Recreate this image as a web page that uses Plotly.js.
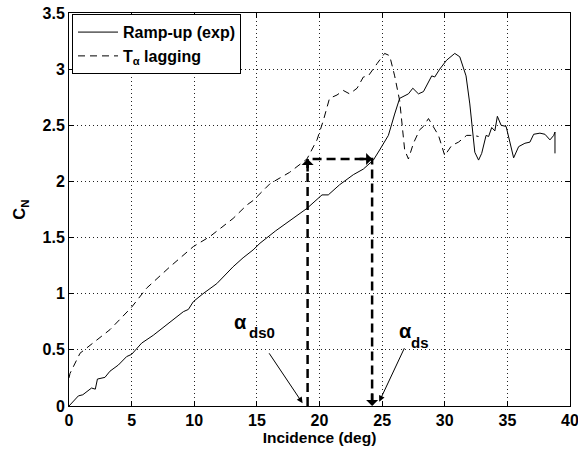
<!DOCTYPE html>
<html>
<head>
<meta charset="utf-8">
<script src="https://cdn.plot.ly/plotly-3.0.1.min.js"></script>
<style>html,body{margin:0;padding:0;background:#fff;}#chart{width:578px;height:450px;}</style>
</head>
<body>
<div id="chart"></div>
<script>
// Ramp-up (exp) measured curve
const rampX = [0,0.35,0.75,1.1,1.5,1.8,2.1,2.27,2.87,3.27,3.94,4.6,5.0,5.8,6.73,7.8,9.13,9.53,9.93,10.7,11.8,13.1,13.9,14.7,15.25,16.5,17.6,19.0,20.2,20.7,21.6,22.7,23.5,24.3,24.8,25.5,26.0,26.4,27.1,27.45,27.9,28.3,28.96,29.2,29.6,30.15,30.8,31.2,31.7,32.0,32.4,32.7,32.95,33.3,33.5,33.75,34.0,34.2,34.5,34.9,35.5,35.9,36.4,36.8,37.1,37.6,38.0,38.4,38.7,38.8,38.8];
const rampY = [0,0.04,0.09,0.10,0.13,0.16,0.15,0.24,0.255,0.31,0.365,0.44,0.46,0.56,0.63,0.72,0.84,0.86,0.93,1.00,1.09,1.24,1.32,1.39,1.45,1.56,1.65,1.76,1.88,1.88,1.97,2.06,2.11,2.19,2.28,2.41,2.60,2.74,2.78,2.83,2.78,2.80,2.94,2.93,3.00,3.08,3.14,3.11,2.94,2.69,2.26,2.19,2.25,2.41,2.40,2.48,2.45,2.58,2.50,2.49,2.21,2.31,2.34,2.35,2.42,2.43,2.42,2.37,2.41,2.44,2.25];
// T_alpha lagging model curve
const lagX = [0,0.08,0.88,1.94,3.27,5.0,6.2,8.06,9.93,11.26,13.1,14.2,14.7,16.05,17.6,19.0,19.8,20.3,20.8,21.4,21.9,22.4,23.0,23.5,23.9,24.6,25.2,25.6,26.0,26.4,26.8,27.1,27.5,28.0,28.3,28.7,29.1,29.5,30.0,30.55,31.1,31.75,32.3,32.7];
const lagY = [0.25,0.29,0.47,0.56,0.68,0.88,1.05,1.24,1.42,1.51,1.67,1.79,1.83,1.98,2.08,2.20,2.37,2.54,2.74,2.77,2.81,2.78,2.83,2.93,2.94,3.05,3.14,3.12,2.94,2.72,2.28,2.20,2.34,2.46,2.49,2.56,2.49,2.41,2.23,2.32,2.35,2.41,2.41,2.40];
// Stall onset markers
const alphaDs0 = 19.05;
const alphaDs = 24.2;
const cnDs = 2.2;
const xTicks = [0,5,10,15,20,25,30,35,40];
const yTicks = [0,0.5,1,1.5,2,2.5,3,3.5];

const F = {family: 'Liberation Sans, Arial, Helvetica, sans-serif', color: '#000', weight: 'bold'};

const traces = [
  {x: rampX, y: rampY, mode: 'lines', name: 'Ramp-up (exp)', line: {color: '#000', width: 1}},
  {x: lagX, y: lagY, mode: 'lines', name: 'T<sub>α</sub> lagging', line: {color: '#000', width: 1, dash: '7px,5px'}},
  {x: [alphaDs0, alphaDs0, alphaDs, alphaDs], y: [0, cnDs, cnDs, 0], mode: 'lines', showlegend: false,
   line: {color: '#000', width: 2.5, dash: '9px,5px'}, hoverinfo: 'skip'}
];

const annotations = [
  // big filled arrowheads
  {x: alphaDs0, y: cnDs, xref: 'x', yref: 'y', ax: 0, ay: 14, showarrow: true, arrowhead: 1, arrowsize: 0.8, arrowwidth: 2.5, arrowcolor: '#000', text: ''},
  {x: alphaDs, y: cnDs, xref: 'x', yref: 'y', ax: -14, ay: 0, showarrow: true, arrowhead: 1, arrowsize: 0.8, arrowwidth: 2.5, arrowcolor: '#000', text: ''},
  {x: alphaDs, y: 0, xref: 'x', yref: 'y', ax: 0, ay: -14, showarrow: true, arrowhead: 1, arrowsize: 0.8, arrowwidth: 2.5, arrowcolor: '#000', text: ''},
  // thin pointer arrows
  {x: alphaDs0 - 0.4, y: 0.025, xref: 'x', yref: 'y', axref: 'x', ayref: 'y', ax: 15.9, ay: 0.483, showarrow: true, arrowhead: 2, arrowsize: 1.2, arrowwidth: 1, arrowcolor: '#000', text: ''},
  {x: alphaDs + 0.57, y: 0.038, xref: 'x', yref: 'y', axref: 'x', ayref: 'y', ax: 26.83, ay: 0.528, showarrow: true, arrowhead: 2, arrowsize: 1.2, arrowwidth: 1, arrowcolor: '#000', text: ''},
  // labels
  {x: 13.73, y: 0.75, xref: 'x', yref: 'y', showarrow: false, text: 'α', font: Object.assign({}, F, {size: 20})},
  {x: 15.4, y: 0.655, xref: 'x', yref: 'y', showarrow: false, text: 'ds0', font: Object.assign({}, F, {size: 15})},
  {x: 26.83, y: 0.67, xref: 'x', yref: 'y', showarrow: false, text: 'α', font: Object.assign({}, F, {size: 20})},
  {x: 28.0, y: 0.565, xref: 'x', yref: 'y', showarrow: false, text: 'ds', font: Object.assign({}, F, {size: 15})}
];

const axisCommon = {
  showline: true, linecolor: '#000', linewidth: 1, mirror: 'ticks',
  ticks: 'inside', ticklen: 5, tickcolor: '#000', tickwidth: 1,
  showgrid: true, gridcolor: '#222', gridwidth: 1, griddash: '1px,3px',
  zeroline: false, tickfont: Object.assign({}, F, {size: 16}), ticklabeloverflow: 'allow'
};

const layout = {
  width: 578, height: 450,
  margin: {l: 69, r: 8, t: 13, b: 44},
  paper_bgcolor: '#fff', plot_bgcolor: '#fff',
  font: F,
  xaxis: Object.assign({}, axisCommon, {range: [0, 40], tickvals: xTicks, ticktext: xTicks.map(String),
    title: {text: 'Incidence (deg)', font: Object.assign({}, F, {size: 15.5}), standoff: 0}}),
  yaxis: Object.assign({}, axisCommon, {range: [0, 3.5], tickvals: yTicks, ticktext: yTicks.map(String),
    title: {text: 'C<sub>N</sub>', font: Object.assign({}, F, {size: 16.5}), standoff: 12}}),
  showlegend: true,
  legend: {x: 0.006, y: 0.997, xanchor: 'left', yanchor: 'top', bgcolor: '#fff', bordercolor: '#000', borderwidth: 1,
    font: Object.assign({}, F, {size: 16}), tracegroupgap: 0, itemwidth: 40},
  annotations: annotations
};

Plotly.newPlot('chart', traces, layout, {displayModeBar: false, staticPlot: true});
</script>
</body>
</html>
